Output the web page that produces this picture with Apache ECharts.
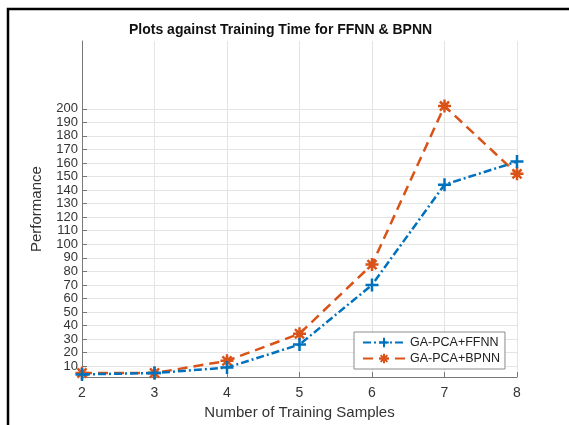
<!DOCTYPE html>
<html>
<head>
<meta charset="utf-8">
<script src="https://cdn.jsdelivr.net/npm/echarts@6/dist/echarts.min.js"></script>
<style>
  html, body { margin: 0; padding: 0; background: #fff; }
  #chart { width: 569px; height: 425px; }
</style>
</head>
<body>
<div id="chart"></div>
<script>
// training samples on the x axis
const samples = [2, 3, 4, 5, 6, 7, 8]
// performance values
const ffnn = [4, 5, 9, 26, 70, 144, 161]
const bpnn = [5, 5, 14, 34, 85, 202, 152]
// y tick labels (MATLAB shows 10:10:200 only)
const yTicks = [10, 20, 30, 40, 50, 60, 70, 80, 90, 100, 110, 120, 130, 140, 150, 160, 170, 180, 190, 200]

const font = 'Liberation Sans, Arial, sans-serif'
const plusSymbol = 'path://M0,-1L0,1M-1,0L1,0'
const starSymbol = 'path://M0,-1L0,1M-1,0L1,0M-0.7,-0.7L0.7,0.7M-0.7,0.7L0.7,-0.7'

const chart = echarts.init(document.getElementById('chart'))

const option = {
  backgroundColor: '#fff',
  animation: false,
  title: {
    text: 'Plots against Training Time for FFNN & BPNN',
    left: 124,
    top: 18,
    textStyle: { fontFamily: font, fontSize: 14, fontWeight: 'bold', color: '#111' }
  },
  grid: { left: 82, right: 52, top: 41, bottom: 42 },
  legend: {
    orient: 'vertical',
    left: 354,
    top: 332,
    padding: [4, 5, 4, 8],
    itemGap: 3,
    itemWidth: 42,
    itemHeight: 12,
    backgroundColor: '#fff',
    borderColor: '#8c8c8c',
    borderWidth: 1,
    textStyle: { fontFamily: font, fontSize: 12.5, color: '#222' },
    data: ['GA-PCA+FFNN', 'GA-PCA+BPNN']
  },
  xAxis: {
    type: 'value',
    min: 2,
    max: 8,
    interval: 1,
    name: 'Number of Training Samples',
    nameLocation: 'middle',
    nameGap: 26,
    nameTextStyle: { fontFamily: font, fontSize: 15, color: '#333' },
    axisLine: { show: true, lineStyle: { color: '#777', width: 1 } },
    axisTick: { show: true, inside: true, length: 5, lineStyle: { color: '#777' } },
    axisLabel: { fontFamily: font, fontSize: 14, color: '#333', margin: 9 },
    splitLine: { show: true, lineStyle: { color: '#e4e4e4', width: 1 } }
  },
  yAxis: {
    type: 'value',
    min: 2,
    max: 250,
    name: 'Performance',
    nameLocation: 'middle',
    nameGap: 38,
    nameTextStyle: { fontFamily: font, fontSize: 15, color: '#333' },
    axisLine: { show: true, lineStyle: { color: '#777', width: 1 } },
    axisTick: { show: true, inside: true, length: 5, lineStyle: { color: '#777' }, customValues: yTicks },
    axisLabel: { fontFamily: font, fontSize: 13, color: '#333', margin: 4, customValues: yTicks },
    splitLine: { show: true, lineStyle: { color: '#e4e4e4', width: 1 } }
  },
  graphic: [
    {
      type: 'polyline',
      shape: { points: [[8, 425], [8, 9], [570, 9]] },
      style: { stroke: '#000', lineWidth: 2.5, fill: null },
      silent: true
    }
  ],
  series: [
    {
      name: 'GA-PCA+FFNN',
      type: 'line',
      data: samples.map((s, i) => [s, ffnn[i]]),
      symbol: plusSymbol,
      symbolSize: 13,
      lineStyle: { color: '#0072BD', width: 2.5, type: [8, 3, 2, 3] },
      itemStyle: { color: '#0072BD', borderColor: '#0072BD', borderWidth: 2.5 },
      z: 3
    },
    {
      name: 'GA-PCA+BPNN',
      type: 'line',
      data: samples.map((s, i) => [s, bpnn[i]]),
      symbol: starSymbol,
      symbolSize: 13,
      lineStyle: { color: '#D95319', width: 2.5, type: [10, 6] },
      itemStyle: { color: '#D95319', borderColor: '#D95319', borderWidth: 2.5 },
      z: 2
    }
  ]
}

chart.setOption(option)
</script>
</body>
</html>
